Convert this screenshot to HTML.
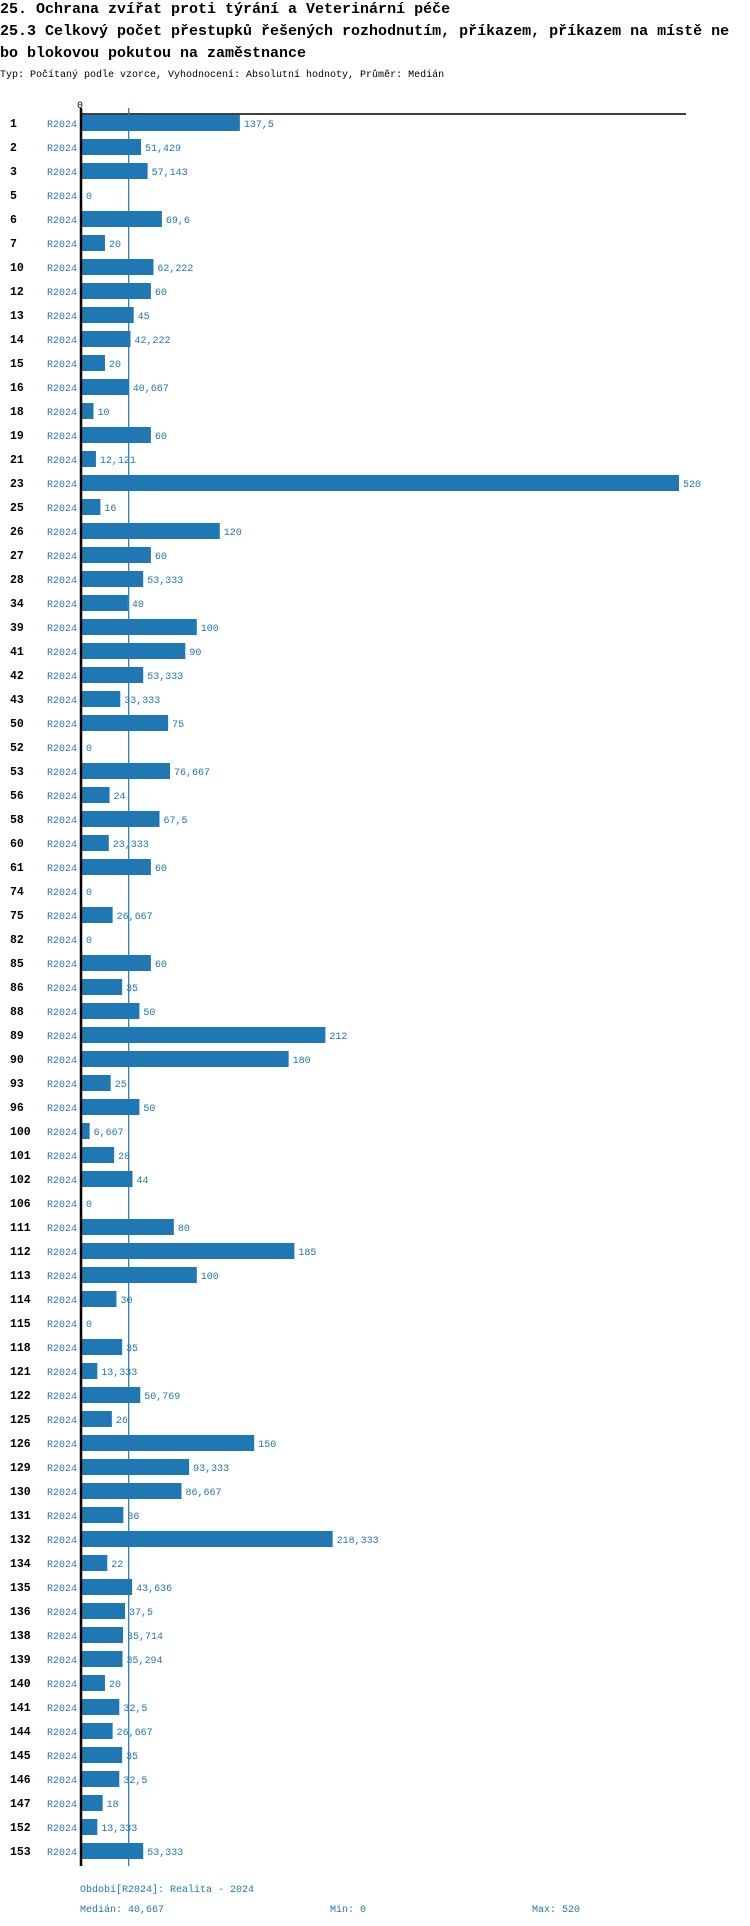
<!DOCTYPE html>
<html><head><meta charset="utf-8">
<style>
html,body{margin:0;padding:0;background:#fff;width:750px;height:1926px;overflow:hidden}
svg{display:block}
.t{font-family:"Liberation Mono",monospace;font-weight:bold;font-size:15px;fill:#000}
.s{font-family:"Liberation Mono",monospace;font-size:10px;fill:#000}
.lab{font-family:"Liberation Mono",monospace;font-weight:bold;font-size:11.5px;fill:#000}
.ser{font-family:"Liberation Mono",monospace;font-size:10px;fill:#1f77b4}
.ft{font-family:"Liberation Mono",monospace;font-size:10px;fill:#1f77b4}
</style></head>
<body>
<svg id="chart" width="750" height="1926" xmlns="http://www.w3.org/2000/svg">
<text class="t" x="0" y="13">25. Ochrana zvířat proti týrání a Veterinární péče</text>
<text class="t" x="0" y="35">25.3 Celkový počet přestupků řešených rozhodnutím, příkazem, příkazem na místě ne</text>
<text class="t" x="0" y="57">bo blokovou pokutou na zaměstnance</text>
<text class="s" x="0" y="77">Typ: Počítaný podle vzorce, Vyhodnocení: Absolutní hodnoty, Průměr: Medián</text>
<text class="s" x="77" y="108">0</text>
<g id="bars"></g>
<line x1="81" y1="114" x2="686" y2="114" stroke="#000" stroke-width="1.5"/>
<line x1="81" y1="108" x2="81" y2="1866" stroke="#000" stroke-width="2.5"/>
<line id="med" x1="126" y1="108" x2="126" y2="1866" stroke="#1f77b4" stroke-width="1.2"/>
<text class="ft" x="80" y="1892">Období[R2024]: Realita - 2024</text>
<text class="ft" x="80" y="1912">Medián: 40,667</text>
<text class="ft" x="330" y="1912">Min: 0</text>
<text class="ft" x="532" y="1912">Max: 520</text>
</svg>
<script>
const categories=["1","2","3","5","6","7","10","12","13","14","15","16","18","19","21","23","25","26","27","28","34","39","41","42","43","50","52","53","56","58","60","61","74","75","82","85","86","88","89","90","93","96","100","101","102","106","111","112","113","114","115","118","121","122","125","126","129","130","131","132","134","135","136","138","139","140","141","144","145","146","147","152","153"];
const values=[137.5,51.429,57.143,0,69.6,20,62.222,60,45,42.222,20,40.667,10,60,12.121,520,16,120,60,53.333,40,100,90,53.333,33.333,75,0,76.667,24,67.5,23.333,60,0,26.667,0,60,35,50,212,180,25,50,6.667,28,44,0,80,185,100,30,0,35,13.333,50.769,26,150,93.333,86.667,36,218.333,22,43.636,37.5,35.714,35.294,20,32.5,26.667,35,32.5,18,13.333,53.333];
const seriesName="R2024";
const medianValue=40.667;
const maxValue=520;
const NS="http://www.w3.org/2000/svg";
const x0=82, xMaxPx=679;
function xScale(v){return x0+(v/maxValue)*(xMaxPx-x0);}
function yRow(i){return 123+i*24;}
function fmt(v){return String(v).replace('.',',');}
const g=document.getElementById('bars');
const med=document.getElementById('med');
med.setAttribute('x1',xScale(medianValue));med.setAttribute('x2',xScale(medianValue));
categories.forEach((c,i)=>{
  const y=yRow(i);
  const t=document.createElementNS(NS,'text');
  t.setAttribute('class','lab');t.setAttribute('x',10);t.setAttribute('y',y+4);t.textContent=c;
  
  
  g.appendChild(t);
  const s=document.createElementNS(NS,'text');
  s.setAttribute('class','ser');s.setAttribute('x',47);s.setAttribute('y',y+4);s.textContent=seriesName;
  
  
  g.appendChild(s);
  const v=values[i];
  const w=xScale(v)-x0;
  if(w>0){
    const r=document.createElementNS(NS,'rect');
    r.setAttribute('x',x0);r.setAttribute('y',y-8);r.setAttribute('width',w);r.setAttribute('height',16);r.setAttribute('fill','#1f77b4');
    
    
    g.appendChild(r);
  }
  const vl=document.createElementNS(NS,'text');
  vl.setAttribute('class','ser');vl.setAttribute('x',xScale(v)+4);vl.setAttribute('y',y+4);vl.textContent=fmt(v);
  
  
  g.appendChild(vl);
});
</script>
</body></html>
